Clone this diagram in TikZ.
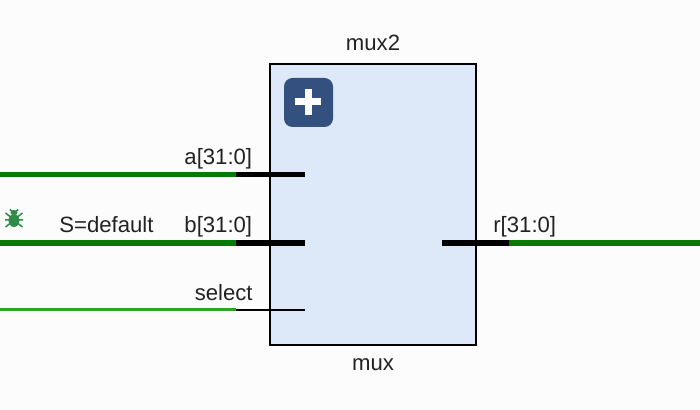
\documentclass[tikz,border=0pt]{standalone}
\usepackage{fontspec}
\setmainfont{Liberation Sans}
\definecolor{pagebg}{HTML}{FCFCFC}
\definecolor{blockfill}{HTML}{DDE9F9}
\definecolor{busgreen}{HTML}{067A06}
\definecolor{bitgreen}{HTML}{2BA62B}
\definecolor{btnblue}{HTML}{34507F}
\definecolor{bugreen}{HTML}{2E8B4A}
\definecolor{labelgray}{HTML}{222222}
\tikzset{
  label/.style={font=\fontsize{12.6}{15}\selectfont,text=labelgray,inner sep=0pt},
  bus/.style={busgreen,line width=.11cm},
  bit/.style={bitgreen,line width=.06cm},
  buspin/.style={black,line width=.11cm},
  bitpin/.style={black,line width=.045cm}
}
\begin{document}
\begin{tikzpicture}
          \useasboundingbox (0,0) rectangle (14,8.2);
          \fill [pagebg] (0,0) rectangle (14,8.2);
          % block
          \node [draw=black,line width=.05cm,fill=blockfill,minimum width=4.12cm,minimum height=5.62cm,inner sep=0pt] (mux) at (7.46,4.11) {};
          \node [fill=btnblue,rounded corners=.17cm,minimum size=.98cm,inner sep=0pt] (btn) at (6.17,6.15) {};
          \fill [white] (6.16,6.16) +(-.26,-.07) rectangle +(.26,.07);
          \fill [white] (6.16,6.16) +(-.07,-.26) rectangle +(.07,.26);
          % wire ends
          \coordinate (aw) at (0,4.71);
          \coordinate (ap) at (4.72,4.71);
          \coordinate (ai) at (6.1,4.71);
          \coordinate (bw) at (0,3.34);
          \coordinate (bp) at (4.72,3.34);
          \coordinate (bi) at (6.1,3.34);
          \coordinate (sw) at (0,2);
          \coordinate (sp) at (4.72,2);
          \coordinate (si) at (6.1,2);
          \coordinate (ri) at (8.84,3.34);
          \coordinate (rp) at (10.18,3.34);
          \coordinate (rw) at (14,3.34);
          \draw [bus] (aw) -- (ap);
          \draw [bus] (bw) -- (bp);
          \draw [bit] (sw) -- (sp);
          \draw [bus] (rp) -- (rw);
          \draw [buspin] (ap) -- (ai);
          \draw [buspin] (bp) -- (bi);
          \draw [bitpin] (sp) -- (si);
          \draw [buspin] (ri) -- (rp);
          % labels
          \node [label,anchor=base] (top) at (7.46,7.18) {mux2};
          \node [label,anchor=base] (bottom) at (7.46,.78) {mux};
          \node [label,anchor=base east] (alab) at (5.05,4.9) {a[31:0]};
          \node [label,anchor=base east] (blab) at (5.05,3.54) {b[31:0]};
          \node [label,anchor=base east] (slab) at (5.06,2.18) {select};
          \node [label,anchor=base west] (rlab) at (9.86,3.54) {r[31:0]};
          \node [label,anchor=base west] (dlab) at (1.18,3.54) {S=default};
          % bug
          \fill [bugreen] (.28,3.79) ellipse (.11 and .13);
          \fill [bugreen] (.28,3.95) ellipse (.07 and .05);
          \draw [bugreen,line width=.03cm] (.11,3.94) -- (.2,3.87) (.45,3.94) -- (.36,3.87)
            (.1,3.8) -- (.46,3.8) (.11,3.66) -- (.2,3.73) (.45,3.66) -- (.36,3.73)
            (.2,4.01) -- (.25,3.96) (.36,4.01) -- (.31,3.96);
\end{tikzpicture}
\end{document}
